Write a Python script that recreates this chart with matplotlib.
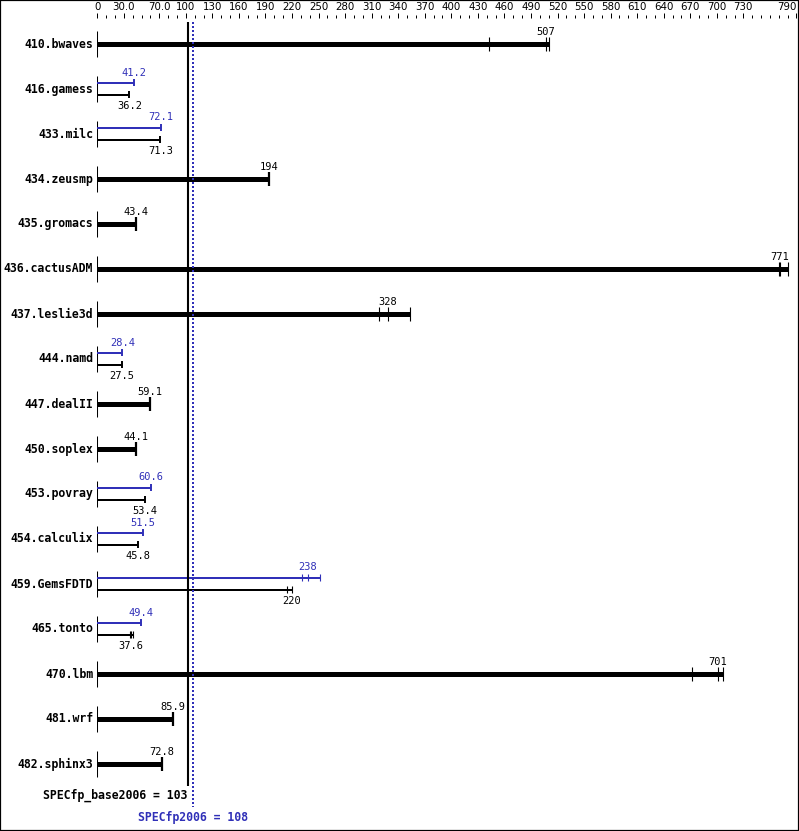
import matplotlib
matplotlib.use("Agg")
import matplotlib.pyplot as plt
from matplotlib.patches import Rectangle

# ---- data ----
benchmarks = ["410.bwaves", "416.gamess", "433.milc", "434.zeusmp", "435.gromacs",
              "436.cactusADM", "437.leslie3d", "444.namd", "447.dealII", "450.soplex",
              "453.povray", "454.calculix", "459.GemsFDTD", "465.tonto", "470.lbm",
              "481.wrf", "482.sphinx3"]
base_median = [507, 36.2, 71.3, 194, 43.4, 771, 328, 27.5, 59.1, 44.1,
               53.4, 45.8, 220, 37.6, 701, 85.9, 72.8]
base_runs = [[443, 507, 510], [36.2], [71.3], [194], [43.4], [770, 771, 780],
             [318, 328, 353], [27.5], [59.1], [44.1], [53.4], [45.8],
             [214, 220, 220], [37.2, 37.6, 40.6], [672, 701, 707], [85.9], [72.8]]
peak_median = [None, 41.2, 72.1, None, None, None, None, 28.4, None, None,
               60.6, 51.5, 238, 49.4, None, None, None]
peak_runs = [None, [41.2], [72.1], None, None, None, None, [28.4], None, None,
             [60.6], [51.5], [231, 238, 252], [49.4], None, None, None]
base_labels = ["507", "36.2", "71.3", "194", "43.4", "771", "328", "27.5", "59.1",
               "44.1", "53.4", "45.8", "220", "37.6", "701", "85.9", "72.8"]
peak_labels = [None, "41.2", "72.1", None, None, None, None, "28.4", None, None,
               "60.6", "51.5", "238", "49.4", None, None, None]
tick_values = [0, 30, 70, 100, 130, 160, 190, 220, 250, 280, 310, 340, 370, 400,
               430, 460, 490, 520, 550, 580, 610, 640, 670, 700, 730, 790]
tick_labels = ["0", "30.0", "70.0", "100", "130", "160", "190", "220", "250", "280",
               "310", "340", "370", "400", "430", "460", "490", "520", "550", "580",
               "610", "640", "670", "700", "730", "790"]
base_score = 103
peak_score = 108

BLUE = "#3030b8"
W, H = 799, 831
X0, XR = 97.3, 797.0
SCALE = 0.885
TOP = 18.3

fig = plt.figure(figsize=(W / 100, H / 100), dpi=100)
ax = fig.add_axes([X0 / W, 0, (XR - X0) / W, (H - TOP) / H])
ax.set_xlim(0, (XR - X0) / SCALE)
ax.set_ylim(H, TOP)
for s in ax.spines.values():
    s.set_visible(False)
ax.yaxis.set_visible(False)
ax.xaxis.set_ticks_position("top")
ax.set_xticks(tick_values)
ax.set_xticklabels(tick_labels)
ax.set_xticks(range(0, 791, 10), minor=True)
ax.tick_params(axis="x", which="major", direction="out", length=3.6, width=0.72,
               pad=0.6, labelsize=7.4, colors="black")
ax.tick_params(axis="x", which="minor", direction="out", length=2.2, width=0.72)
for lab in ax.get_xticklabels():
    lab.set_fontfamily(["DejaVu Sans"])
ax.get_xticklabels()[-1].set_ha("right")

mono = ["DejaVu Sans Mono"]
PX = 1 / SCALE  # one pixel in x units

for i, name in enumerate(benchmarks):
    c = 43.5 + 45 * i
    ax.vlines(0, c - 13, c + 13, color="black", lw=0.75)
    ax.text(-4 * PX, c + 0.5, name, ha="right", va="center", fontsize=8.3,
            fontweight="bold", family=mono)
    if peak_median[i] is None:
        y = c + 0.5
        runs = base_runs[i]
        ax.hlines(y, 0, max(runs), color="black", lw=3.6, capstyle="butt")
        lw = 1.6 if len(set(runs)) == 1 else 0.8
        for r in set(runs):
            ax.vlines(r, y - 6.7, y + 6.7, color="black", lw=lw)
        ax.text(base_median[i], c - 11.5, base_labels[i], ha="center", va="center",
                fontsize=7.5, family=mono, color="black")
    else:
        for runs, med, lab, col, y, ly in (
                (peak_runs[i], peak_median[i], peak_labels[i], BLUE, c - 6, c - 16),
                (base_runs[i], base_median[i], base_labels[i], "black", c + 6, c + 17.5)):
            ax.hlines(y, 0, max(runs), color=col, lw=1.44, capstyle="butt")
            lw = 1.4 if len(set(runs)) == 1 else 0.8
            for r in set(runs):
                ax.vlines(r, y - 3.4, y + 3.4, color=col, lw=lw)
            ax.text(med, ly, lab, ha="center", va="center", fontsize=7.5,
                    family=mono, color=col)

# reference lines
ax.vlines(base_score, 22, 786, color="black", lw=1.5)
ax.vlines(peak_score, 22, 807, color=BLUE, lw=1.44, linestyles=(0, (1, 1)))
ax.text(base_score - 1.5 * PX, 795.5, "SPECfp_base2006 = 103", ha="right", va="center",
        fontsize=8.3, fontweight="bold", family=mono, color="black")
ax.text(peak_score, 817, "SPECfp2006 = 108", ha="center", va="center",
        fontsize=8.3, fontweight="bold", family=mono, color=BLUE)

fig.add_artist(Rectangle((0, 0), 1, 1, transform=fig.transFigure, fill=False,
                         lw=1.6, edgecolor="black"))

fig.savefig("out.png", dpi=100)
